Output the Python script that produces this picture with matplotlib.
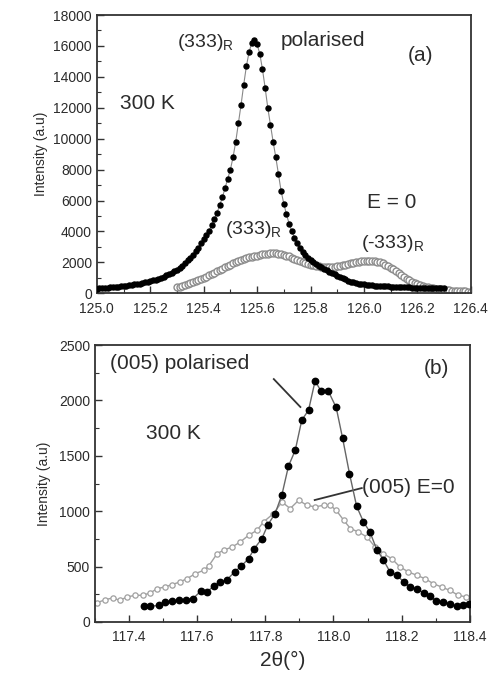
import numpy as np
import matplotlib
matplotlib.use('Agg')
import matplotlib.pyplot as plt
from matplotlib.ticker import MultipleLocator

plt.rcParams['font.family'] = ['Liberation Sans', 'DejaVu Sans']
plt.rcParams['mathtext.fontset'] = 'custom'
plt.rcParams['mathtext.rm'] = 'Liberation Sans'
plt.rcParams['mathtext.it'] = 'Liberation Sans'

# (a) 333 reflection, 0.01 deg steps
theta_a_pol = np.round(np.arange(125.00, 126.305, 0.01), 2)
int_a_pol = [
    300, 310, 325, 340, 360, 380, 395, 415, 430, 450,
    470, 495, 520, 545, 570, 600, 630, 665, 700, 740,
    780, 830, 880, 940, 1000, 1080, 1160, 1240, 1320, 1410,
    1500, 1640, 1790, 1950, 2120, 2300, 2500, 2720, 2960, 3220,
    3500, 3760, 4050, 4400, 4800, 5200, 5700, 6200, 6800, 7400,
    8000, 8800, 9800, 11000, 12200, 13500, 14700, 15600, 16200, 16400,
    16100, 15500, 14500, 13300, 12000, 10900, 9800, 8800, 7700, 6600,
    5800, 5100, 4500, 4000, 3600, 3250, 2950, 2700, 2480, 2300,
    2150, 2020, 1900, 1790, 1690, 1590, 1490, 1390, 1300, 1220,
    1140, 1060, 980, 900, 820, 760, 700, 660, 620, 590,
    570, 550, 530, 510, 495, 480, 470, 460, 450, 440,
    430, 420, 412, 405, 398, 390, 384, 378, 372, 366,
    360, 355, 350, 345, 340, 336, 332, 328, 325, 322,
    320,
]

theta_a_e0 = np.round(np.arange(125.30, 126.405, 0.01), 2)
int_a_e0 = [
    380, 420, 470, 520, 580, 640, 710, 780, 860, 940,
    1010, 1080, 1160, 1240, 1320, 1410, 1500, 1590, 1680, 1770,
    1860, 1940, 2010, 2080, 2150, 2210, 2270, 2320, 2360, 2400,
    2440, 2480, 2510, 2540, 2560, 2580, 2590, 2590, 2570, 2530,
    2490, 2440, 2380, 2310, 2230, 2160, 2090, 2030, 1970, 1910,
    1860, 1810, 1770, 1740, 1720, 1700, 1690, 1690, 1700, 1720,
    1750, 1780, 1820, 1860, 1900, 1940, 1980, 2010, 2040, 2060,
    2080, 2090, 2090, 2080, 2060, 2030, 1990, 1930, 1860, 1770,
    1660, 1540, 1410, 1280, 1160, 1050, 940, 840, 750, 670,
    600, 540, 480, 430, 390, 350, 320, 290, 260, 240,
    220, 200, 180, 165, 150, 140, 130, 120, 115, 110,
    105,
]

# (b) 005 reflection
theta_b_pol = [
    117.444, 117.463, 117.488, 117.507, 117.527, 117.546, 117.566, 117.588,
    117.610, 117.629, 117.649, 117.668, 117.688, 117.710, 117.729, 117.751,
    117.768, 117.790, 117.808, 117.829, 117.849, 117.868, 117.888, 117.907,
    117.927, 117.946, 117.964, 117.985, 118.008, 118.027, 118.047, 118.068,
    118.088, 118.107, 118.127, 118.146, 118.166, 118.185, 118.207, 118.224,
    118.244, 118.265, 118.283, 118.302, 118.322, 118.341, 118.361, 118.380,
    118.398,
]
int_b_pol = [
    142, 142, 150, 181, 187, 196, 202, 211,
    277, 271, 325, 361, 383, 452, 503, 572,
    663, 753, 880, 979, 1151, 1407, 1551, 1822,
    1913, 2175, 2084, 2084, 1937, 1657, 1340, 1045,
    904, 813, 654, 563, 452, 422, 361, 316,
    301, 262, 232, 187, 181, 166, 142, 151,
    166,
]

theta_b_e0 = [
    117.305, 117.329, 117.352, 117.373, 117.395, 117.418, 117.440, 117.462,
    117.483, 117.505, 117.527, 117.549, 117.571, 117.595, 117.620, 117.634,
    117.659, 117.678, 117.703, 117.727, 117.751, 117.776, 117.795, 117.824,
    117.849, 117.873, 117.898, 117.922, 117.946, 117.971, 117.990, 118.008,
    118.030, 118.050, 118.073, 118.098, 118.122, 118.146, 118.171, 118.195,
    118.220, 118.244, 118.268, 118.293, 118.317, 118.341, 118.366, 118.390,
]
int_b_e0 = [
    172, 200, 217, 196, 226, 241, 241, 262,
    301, 316, 338, 361, 392, 437, 467, 506,
    618, 648, 678, 723, 783, 828, 904, 979,
    1084, 1024, 1099, 1054, 1039, 1054, 1054, 1009,
    919, 843, 813, 768, 678, 617, 572, 497,
    452, 422, 392, 346, 316, 286, 241, 226,
]

txt = '#2b2b2b'
fig = plt.figure(figsize=(4.94, 6.82), dpi=100)
ax1 = fig.add_axes([0.196, 0.570, 0.757, 0.408])
ax2 = fig.add_axes([0.192, 0.088, 0.759, 0.406])

# panel (a)
ax1.plot(theta_a_e0, int_a_e0, '-', color='#9a9a9a', lw=1.0,
         marker='o', ms=5, mfc='white', mec='#8c8c8c', mew=1.0, zorder=2)
ax1.plot(theta_a_pol, int_a_pol, '-', color='#888888', lw=0.8,
         marker='o', ms=3.6, mfc='black', mec='black', zorder=3)
ax1.set_xlim(125.0, 126.4)
ax1.set_ylim(0, 18000)
ax1.xaxis.set_major_locator(MultipleLocator(0.2))
ax1.xaxis.set_minor_locator(MultipleLocator(0.1))
ax1.yaxis.set_major_locator(MultipleLocator(2000))
ax1.yaxis.set_minor_locator(MultipleLocator(1000))
ax1.set_xticklabels([f'{v:.1f}' for v in ax1.get_xticks()])
ax1.set_ylabel('Intensity (a.u)', fontsize=10, color=txt, labelpad=4)

ax1.text(125.30, 16250, '(333)$_{\\mathrm{R}}$', fontsize=14, color=txt, va='center')
ax1.text(125.69, 16380, 'polarised', fontsize=15, color=txt, va='center')
ax1.text(126.21, 15400, '(a)', fontsize=15, color=txt, va='center', ha='center')
ax1.text(125.085, 12300, '300 K', fontsize=15, color=txt, va='center')
ax1.text(126.01, 5840, 'E = 0', fontsize=15, color=txt, va='center')
ax1.text(125.48, 4100, '(333)$_{\\mathrm{R}}$', fontsize=14, color=txt, va='center')
ax1.text(125.99, 3250, '(-333)$_{\\mathrm{R}}$', fontsize=14, color=txt, va='center')

# panel (b)
ax2.plot(theta_b_e0, int_b_e0, '-', color='#a0a0a0', lw=1.0,
         marker='o', ms=3.8, mfc='white', mec='#a0a0a0', mew=0.9, zorder=2)
ax2.plot(theta_b_pol, int_b_pol, '-', color='#666666', lw=1.0,
         marker='o', ms=4.6, mfc='black', mec='black', zorder=3)
ax2.set_xlim(117.3, 118.4)
ax2.set_ylim(0, 2500)
ax2.xaxis.set_major_locator(MultipleLocator(0.2))
ax2.xaxis.set_minor_locator(MultipleLocator(0.1))
ax2.yaxis.set_major_locator(MultipleLocator(500))
ax2.yaxis.set_minor_locator(MultipleLocator(250))
ax2.set_ylabel('Intensity (a.u)', fontsize=10, color=txt, labelpad=6)
ax2.set_xlabel('2θ(°)', fontsize=15, color=txt, labelpad=5)

ax2.text(117.343, 2335, '(005) polarised', fontsize=15, color=txt, va='center')
ax2.plot([117.825, 117.903], [2193, 1941], color='#333333', lw=1.3)
ax2.text(118.303, 2290, '(b)', fontsize=15, color=txt, va='center', ha='center')
ax2.text(117.53, 1706, '300 K', fontsize=15, color=txt, va='center', ha='center')
ax2.plot([117.945, 118.083], [1101, 1209], color='#333333', lw=1.3)
ax2.text(118.083, 1218, '(005) E=0', fontsize=15, color=txt, va='center')

for ax in (ax1, ax2):
    for s in ax.spines.values():
        s.set_linewidth(1.3)
        s.set_color('#333333')
    ax.tick_params(which='both', direction='in', top=False, right=False,
                   labelsize=10, labelcolor=txt, color='#333333')
    ax.tick_params(which='major', length=5, width=1)
    ax.tick_params(which='minor', length=3, width=0.8)
    ax.tick_params(axis='x', which='major', pad=6)

fig.savefig('out.png', dpi=100)
